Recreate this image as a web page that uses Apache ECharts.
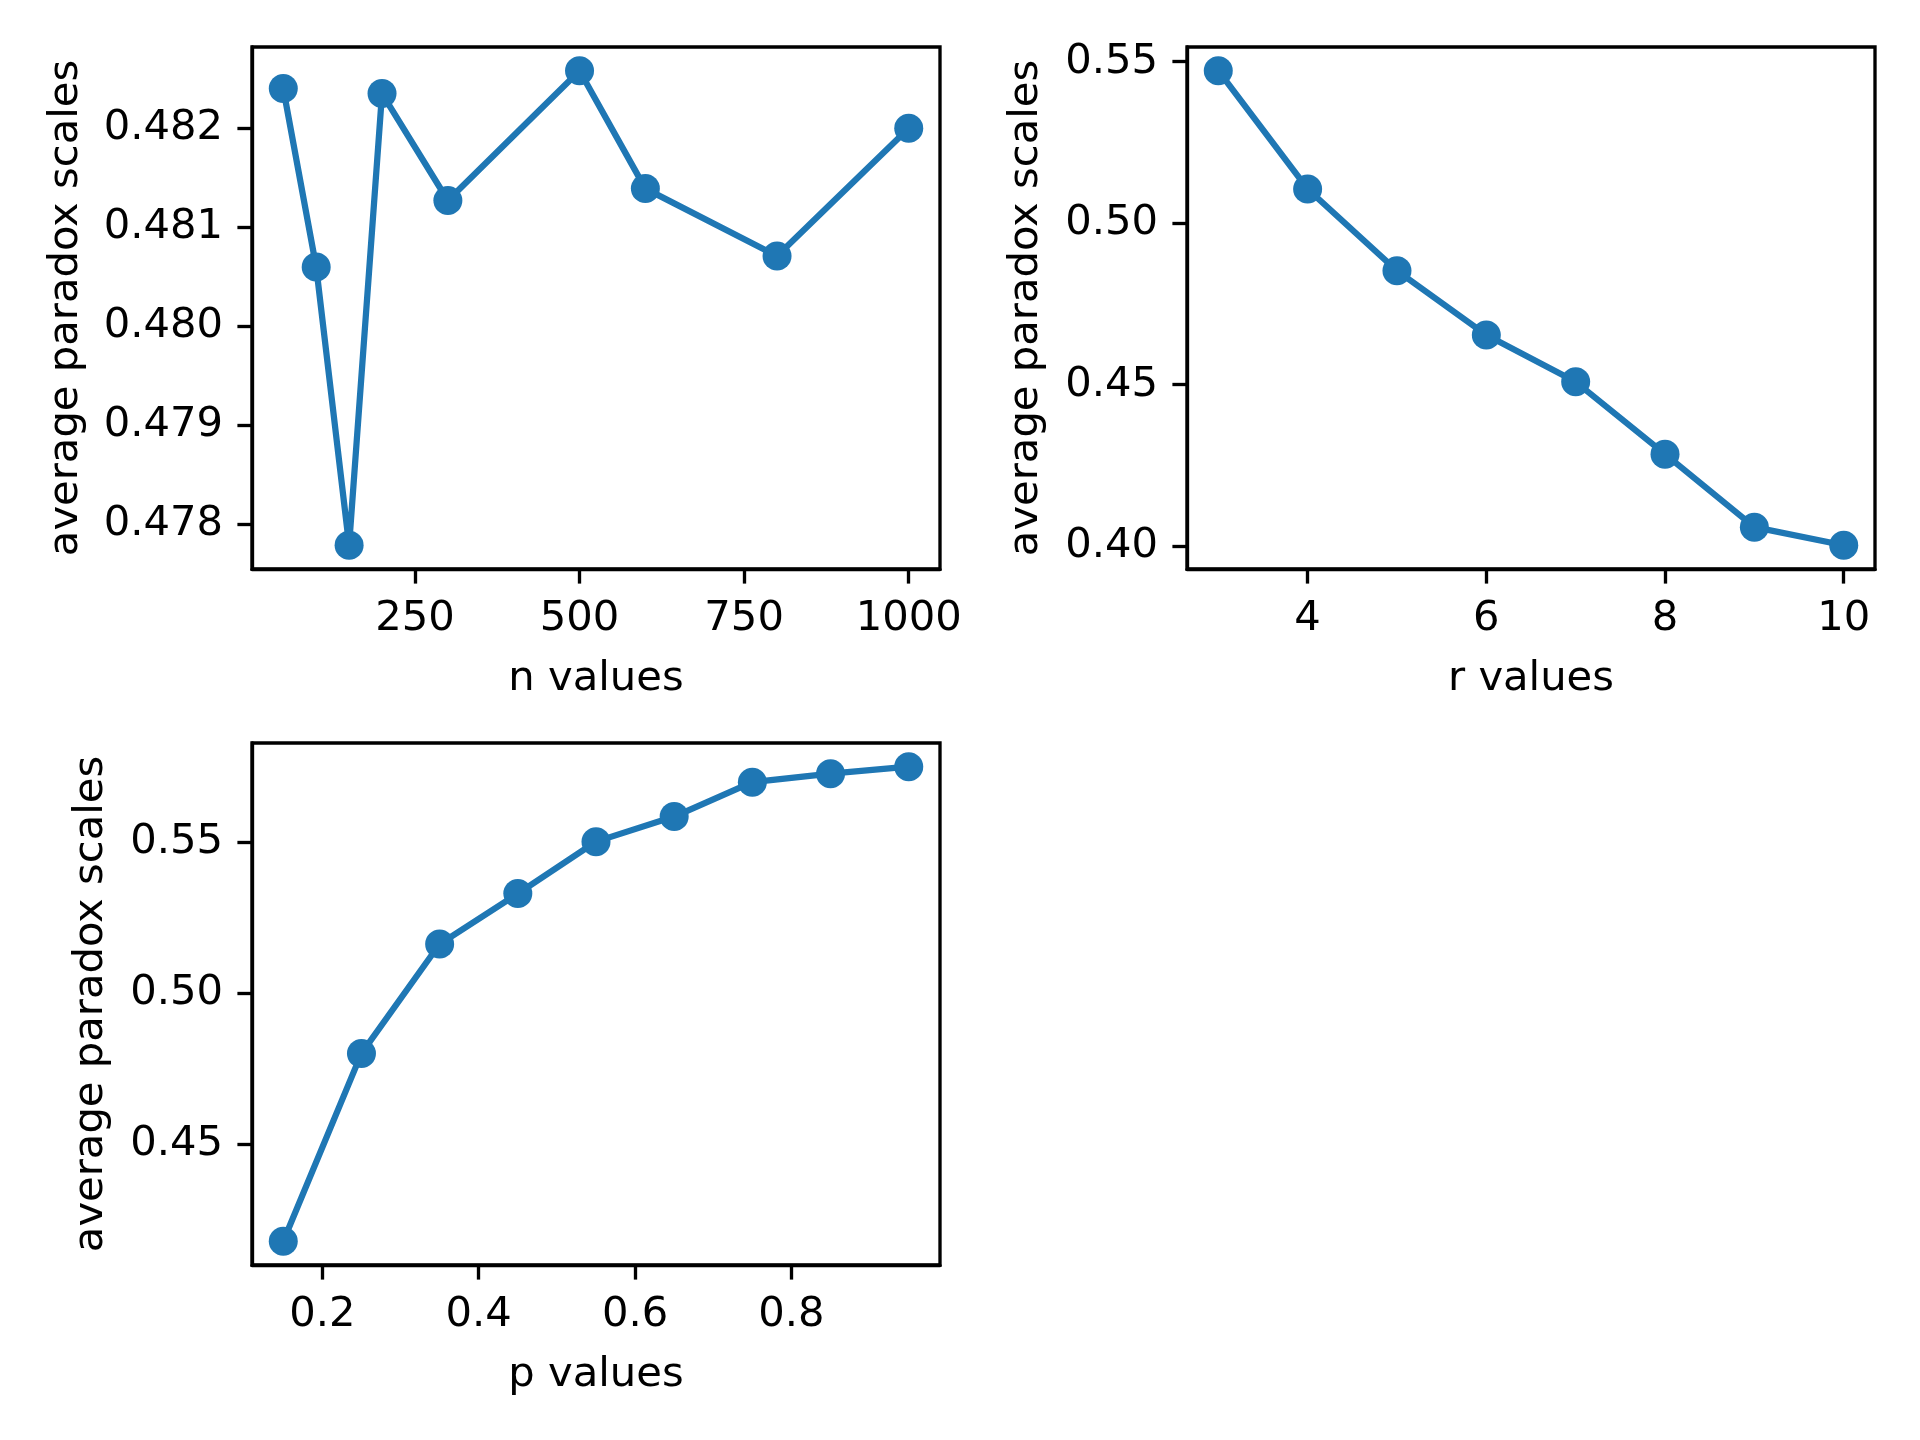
<!DOCTYPE html>
<html>
<head>
<meta charset="utf-8">
<script src="https://cdn.jsdelivr.net/npm/echarts@6/dist/echarts.min.js"></script>
<style>
html,body{margin:0;padding:0;background:#fff;}
#chart{width:1920px;height:1440px;}
</style>
</head>
<body>
<div id="chart"></div>
<script>
// ---- data ----
const nValues = [50, 100, 150, 200, 300, 500, 600, 800, 1000];
const nScales = [0.48240, 0.48060, 0.47779, 0.48235, 0.48127, 0.48258, 0.48139, 0.48071, 0.48200];
const rValues = [3, 4, 5, 6, 7, 8, 9, 10];
const rScales = [0.5472, 0.5106, 0.4853, 0.4654, 0.4509, 0.4285, 0.4059, 0.4003];
const pValues = [0.15, 0.25, 0.35, 0.45, 0.55, 0.65, 0.75, 0.85, 0.95];
const pScales = [0.4180, 0.4802, 0.5164, 0.5331, 0.5503, 0.5586, 0.5700, 0.5728, 0.5751];

const nTicks = [250, 500, 750, 1000];
const nYTicks = [0.478, 0.479, 0.480, 0.481, 0.482];
const rTicks = [4, 6, 8, 10];
const rYTicks = [0.40, 0.45, 0.50, 0.55];
const pTicks = [0.2, 0.4, 0.6, 0.8];
const pYTicks = [0.45, 0.50, 0.55];

const xNames = ['n values', 'r values', 'p values'];
const yName = 'average paradox scales';

// ---- styling ----
const BLUE = '#1f77b4';
const FONT = 'DejaVu Sans';
const FS = 41.7;
const LW = 3.33;
const TICK = 14.6;

function pad(lo, hi) { const m = (hi - lo) * 0.05; return [lo - m, hi + m]; }

function xAxis(idx, vals, ticks, dec) {
  const [mn, mx] = pad(Math.min(...vals), Math.max(...vals));
  return {
    type: 'value', gridIndex: idx, min: mn, max: mx,
    name: xNames[idx], nameLocation: 'middle', nameGap: 89,
    nameTextStyle: { fontFamily: FONT, fontSize: FS, color: '#000' },
    axisLine: { show: true, onZero: false, lineStyle: { color: '#000', width: LW } },
    axisTick: { show: true, inside: false, length: TICK, lineStyle: { color: '#000', width: LW }, customValues: ticks },
    axisLabel: { show: true, margin: 29, fontFamily: FONT, fontSize: FS, color: '#000', customValues: ticks,
      formatter: v => dec === 0 ? String(Math.round(v)) : Number(v).toFixed(dec) },
    splitLine: { show: false }
  };
}
function yAxis(idx, vals, ticks, dec, gap) {
  const [mn, mx] = pad(Math.min(...vals), Math.max(...vals));
  return {
    type: 'value', gridIndex: idx, min: mn, max: mx, scale: true,
    name: yName, nameLocation: 'middle', nameGap: gap,
    nameTextStyle: { fontFamily: FONT, fontSize: FS, color: '#000' },
    axisLine: { show: true, onZero: false, lineStyle: { color: '#000', width: LW } },
    axisTick: { show: true, inside: false, length: TICK, lineStyle: { color: '#000', width: LW }, customValues: ticks },
    axisLabel: { show: true, margin: 29, fontFamily: FONT, fontSize: FS, color: '#000', customValues: ticks,
      formatter: v => Number(v).toFixed(dec) },
    splitLine: { show: false }
  };
}
function series(idx, xs, ys) {
  return {
    type: 'line', xAxisIndex: idx, yAxisIndex: idx,
    data: xs.map((x, i) => [x, ys[i]]),
    symbol: 'circle', symbolSize: 29, showSymbol: true,
    lineStyle: { color: BLUE, width: 6.25 },
    itemStyle: { color: BLUE },
    clip: false, animation: false
  };
}

const gridBase = { show: true, borderColor: '#000', borderWidth: LW, backgroundColor: '#fff', containLabel: false };

const option = {
  backgroundColor: '#fff',
  animation: false,
  grid: [
    Object.assign({ left: 252, top: 47, width: 688, height: 522 }, gridBase),
    Object.assign({ left: 1187, top: 47, width: 688, height: 522 }, gridBase),
    Object.assign({ left: 252, top: 743, width: 688, height: 522 }, gridBase)
  ],
  xAxis: [
    xAxis(0, nValues, nTicks, 0),
    xAxis(1, rValues, rTicks, 0),
    xAxis(2, pValues, pTicks, 1)
  ],
  yAxis: [
    yAxis(0, nScales, nYTicks, 3, 165),
    yAxis(1, rScales, rYTicks, 2, 140),
    yAxis(2, pScales, pYTicks, 2, 140)
  ],
  series: [
    series(0, nValues, nScales),
    series(1, rValues, rScales),
    series(2, pValues, pScales)
  ]
};

const chart = echarts.init(document.getElementById('chart'), null, { renderer: 'canvas' });
chart.setOption(option);
</script>
</body>
</html>
